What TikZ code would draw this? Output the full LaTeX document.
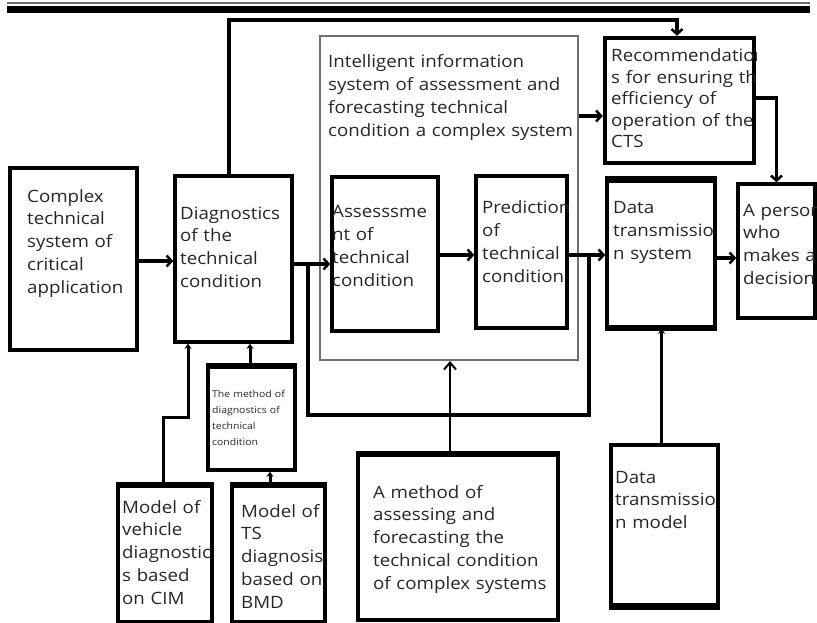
\documentclass[tikz,border=0pt]{standalone}
\usepackage{fontspec}
\setmainfont[FakeStretch=1.1]{Open Sans}
\usetikzlibrary{arrows.meta}
\definecolor{ink}{HTML}{262626}
\definecolor{framegray}{HTML}{707070}

\tikzset{
  box/.style={draw=black, line width=3.5pt, inner sep=0pt},
  lbl/.style={anchor=base west, inner sep=0pt, align=left, text=ink,
    text width=400pt, font=\fontsize{17}{22.8}\selectfont},
  tinylbl/.style={lbl, font=\fontsize{9.5}{16.3}\selectfont},
  conn/.style={draw=black, line width=3.5pt},
  arr/.style={conn, -{Straight Barb[length=5pt,width=11pt,line width=2.5pt]}},
  smallarr/.style={draw=black, line width=3pt, -{Stealth[length=5pt,width=7pt]}},
  openarr/.style={draw=black, line width=2pt, -{Straight Barb[length=7pt,width=12pt,line width=2pt]}},
}

% text clipped to the inside of its box
\newcommand\boxedtext[5][lbl]{%
  \begin{scope}
    \clip (#2.south west) rectangle (#2.north east);
    \node[#1] (#2-txt) at (#3,#4) {#5};
  \end{scope}}

\begin{document}
\begin{tikzpicture}[x=1pt,y=-1pt]
\useasboundingbox (0,0) rectangle (817,623);

% heading rules
\draw[framegray, line width=1.2pt] (7,3) -- (810,3);
\draw[black, line width=7pt] (7,9.5) -- (810,9.5);

% outer frame of the intelligent information system
\node[draw=framegray, line width=2pt, inner sep=0pt,
      minimum width=258pt, minimum height=324pt] (ias) at (449,198) {};
\node[lbl] (ias-txt) at (328,68) {Intelligent information\\system of assessment and\\forecasting technical\\condition a complex system};

% boxes
\node[box, minimum width=127pt, minimum height=182pt] (cts)    at (73.5,259) {};
\node[box, minimum width=117pt, minimum height=166pt] (diag)   at (233.5,259) {};
\node[box, minimum width=106pt, minimum height=154pt] (assess) at (385,254) {};
\node[box, minimum width=91pt,  minimum height=152pt] (pred)   at (521.5,252) {};
\node[box, minimum width=108pt, minimum height=146pt] (dts)    at (661,254) {};
\node[box, minimum width=77pt,  minimum height=134pt] (person) at (776.5,251) {};
\node[box, line width=4.5pt, minimum width=149pt, minimum height=125pt] (rec) at (679.5,100.5) {};
\node[box, minimum width=87pt,  minimum height=103pt] (mdiag)  at (251.5,418.5) {};
\node[box, minimum width=94pt,  minimum height=136pt] (mveh)   at (165,554) {};
\node[box, minimum width=93pt,  minimum height=136pt] (mts)    at (278.5,554) {};
\node[box, minimum width=200pt, minimum height=165pt] (mass)   at (458,537.5) {};
\node[box, minimum width=107pt, minimum height=160pt] (dtm)    at (664.5,525) {};

% heavier edges
\draw[line width=6pt] (dts.north west) -- (dts.north east);
\draw[line width=5pt] (dts.south west) -- (dts.south east);
\draw[line width=5pt] (mass.north west) -- (mass.north east);
\draw[line width=6pt] (dtm.south west) -- (dtm.south east);
\draw[line width=4pt] (mveh.north west) -- (mveh.north east);
\draw[line width=4pt] (mts.north west) -- (mts.north east);
\draw[line width=4pt] (mdiag.north west) -- (mdiag.north east);

% box texts
\boxedtext{cts}{27}{202}{Complex\\technical\\system of\\critical\\application}
\boxedtext{diag}{180}{219}{Diagnostics\\of the\\technical\\condition}
\boxedtext{assess}{332}{218}{Assesssme\\nt of\\technical\\condition}
\boxedtext{pred}{482}{214}{Prediction\\of\\technical\\condition}
\boxedtext{dts}{613}{214}{Data\\transmissio\\n system}
\boxedtext{person}{743}{216}{A person\\who\\makes a\\decision}
\boxedtext[lbl, font=\fontsize{17}{21.5}\selectfont]{rec}{611}{62}{Recommendation\\s for ensuring the\\efficiency of\\operation of the\\CTS}
\boxedtext[tinylbl]{mdiag}{212}{397}{The method of\\diagnostics of\\technical\\condition}
\boxedtext{mveh}{122}{513}{Model of\\vehicle\\diagnostic\\s based\\on CIM}
\boxedtext{mts}{241}{517}{Model of\\TS\\diagnosis\\based on\\BMD}
\boxedtext{mass}{373}{498}{A method of\\assessing and\\forecasting the\\technical condition\\of complex systems}
\boxedtext{dtm}{615}{483}{Data\\transmissio\\n model}

% main flow
\draw[arr] ([yshift=-2pt]cts.east) -- ([yshift=-2pt]diag.west);
\draw[arr] ([yshift=-5pt]diag.east) -- ([yshift=-5pt]diag.east -| assess.west);
\draw[arr] ([yshift=-1pt]assess.east) -- ([yshift=-1pt]assess.east -| pred.west);
\draw[arr] ([yshift=-3pt]pred.east) -- ([yshift=-3pt]pred.east -| dts.west);
\draw[arr] ([yshift=-4pt]dts.east) -- ([yshift=-4pt]dts.east -| person.west);

% bypass below the assessment frame
\coordinate (byA) at (308,264);
\coordinate (byB) at (589,255);
\coordinate (byC) at (589,415);
\draw[conn] (byA) |- (byC) -- (byB);

% link over the top to the recommendations
\coordinate (topR) at (677,20);
\draw[arr] ([xshift=-4.5pt]diag.north) |- (topR) -- (topR |- rec.north);
\draw[arr] ([yshift=82pt]ias.east) -- ([yshift=82pt]ias.east -| rec.west);
\draw[arr] ([yshift=2.5pt]rec.east) -| (person.north);

% supporting methods and models
\draw[openarr] ([xshift=-8pt]mass.north) -- ([xshift=-8pt]mass.north |- ias.south);
\draw[smallarr] ([xshift=-3pt]dtm.north) -- ([xshift=-3pt]dtm.north |- dts.south);
\draw[smallarr] ([xshift=-1.5pt]mdiag.north) -- ([xshift=-1.5pt]mdiag.north |- diag.south);
\coordinate (vehbend) at (188,417);
\draw[smallarr] ([xshift=-2pt]mveh.north) |- (vehbend) -- (vehbend |- diag.south);
\draw[smallarr] ([xshift=-8.5pt]mts.north) -- ([xshift=-8.5pt]mts.north |- mdiag.south);
\end{tikzpicture}
\end{document}
